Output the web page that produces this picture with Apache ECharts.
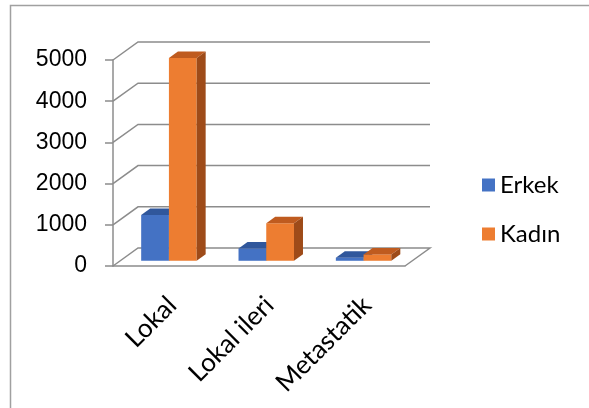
<!DOCTYPE html>
<html>
<head>
<meta charset="utf-8">
<script src="https://cdn.jsdelivr.net/npm/echarts@6/dist/echarts.min.js"></script>
<style>
  html, body { margin:0; padding:0; background:#fff; }
  #chartmain { width:589px; height:408px; }
</style>
</head>
<body>
<div id="chartmain"></div>
<script>
// data
var categories = ['Lokal', 'Lokal ileri', 'Metastatik'];
var erkek = [1110, 300, 75];
var kadin = [4920, 910, 155];
var yTicks = [0, 1000, 2000, 3000, 4000, 5000];

// 3d look: depth of the floor, where the bars start and how deep they are
var DX = 25, DY = -18;
var barFront = 0.29, barDepth = 0.36, barShare = 0.285;

var chart = echarts.init(document.getElementById('chartmain'));

// back wall gridlines + the diagonal links to the front axis
var wallItem = function (params, api) {
    var cs = params.coordSys;
    var v = api.value(1);
    var y = api.coord([0, v])[1];
    var left = cs.x, right = cs.x + cs.width;
    var pts = [[left, y], [left + DX, y + DY], [right + DX, y + DY]];
    if (v === 0) pts.push([right, y]);
    return {
        type: 'polyline',
        shape: { points: pts },
        style: { stroke: '#8c8c8c', lineWidth: 1.5, fill: null }
    };
};

var makeBar = function (slot, front, top, side) {
    return function (params, api) {
        var c = api.coord([api.value(0), api.value(1)]);
        var base = api.coord([api.value(0), 0]);
        var w = api.size([1, 0])[0] * barShare;
        var fx = barFront * DX, fy = barFront * DY;
        var bx = barDepth * DX, by = barDepth * DY;
        var x0 = c[0] - w + slot * w + fx;
        var t = c[1] + fy, b = base[1] + fy;
        return {
            type: 'group',
            children: [
                { type: 'rect', shape: { x: x0, y: t, width: w, height: b - t }, style: { fill: front } },
                { type: 'polygon', shape: { points: [[x0, t], [x0 + bx, t + by], [x0 + w + bx, t + by], [x0 + w, t]] }, style: { fill: top } },
                { type: 'polygon', shape: { points: [[x0 + w, t], [x0 + w + bx, t + by], [x0 + w + bx, b + by], [x0 + w, b]] }, style: { fill: side } }
            ]
        };
    };
};

var labelItem = function (params, api) {
    var p = api.coord([api.value(0), 0]);
    return {
        type: 'text',
        x: p[0] + 10.5,
        y: p[1] + 35,
        rotation: Math.PI / 4,
        style: {
            text: categories[api.value(0)],
            fill: '#000',
            fontSize: 26,
            fontFamily: 'Lato',
            align: 'right',
            verticalAlign: 'middle'
        }
    };
};

var option = {
    animation: false,
    backgroundColor: '#fff',
    graphic: [{
        type: 'rect',
        shape: { x: 10.5, y: 5.5, width: 700, height: 600 },
        style: { stroke: '#a0a0a0', fill: null, lineWidth: 1.5 },
        silent: true
    }],
    grid: { left: 113, right: 184, top: 60, bottom: 142 },
    legend: {
        data: ['Erkek', 'Kadın'],
        orient: 'vertical',
        left: 477,
        top: 168,
        icon: 'rect',
        itemWidth: 13,
        itemHeight: 13,
        itemGap: 25,
        textStyle: { fontSize: 24, fontFamily: 'Lato', color: '#000', lineHeight: 24 }
    },
    xAxis: {
        type: 'category',
        data: categories,
        axisLine: { lineStyle: { color: '#8c8c8c', width: 1.5 } },
        axisTick: { length: 8, lineStyle: { color: '#8c8c8c', width: 1.5 } },
        axisLabel: { show: false }
    },
    yAxis: {
        type: 'value',
        min: 0,
        max: 5000,
        interval: 1000,
        axisLine: { show: true, lineStyle: { color: '#8c8c8c', width: 1.5 } },
        axisTick: { show: true, length: 8, lineStyle: { color: '#8c8c8c', width: 1.5 } },
        splitLine: { show: false },
        axisLabel: {
            margin: 26, fontSize: 23, fontFamily: 'Liberation Sans', color: '#000',
            formatter: function (v) { return String(v); }
        }
    },
    series: [
        {
            type: 'custom', name: 'wall', clip: false, z: 1, silent: true,
            renderItem: wallItem,
            data: yTicks.map(function (v) { return [0, v]; })
        },
        {
            type: 'custom', name: 'Erkek', clip: false, z: 2,
            itemStyle: { color: '#4472C4' },
            renderItem: makeBar(0, '#4472C4', '#30579C', '#2C4C86'),
            data: erkek.map(function (v, i) { return [i, v]; })
        },
        {
            type: 'custom', name: 'Kadın', clip: false, z: 3,
            itemStyle: { color: '#ED7D31' },
            renderItem: makeBar(1, '#ED7D31', '#BF5B1F', '#9E4B19'),
            data: kadin.map(function (v, i) { return [i, v]; })
        },
        {
            type: 'custom', name: 'labels', clip: false, z: 4, silent: true,
            renderItem: labelItem,
            data: categories.map(function (c, i) { return [i, 0]; })
        }
    ]
};

chart.setOption(option);
</script>
</body>
</html>
